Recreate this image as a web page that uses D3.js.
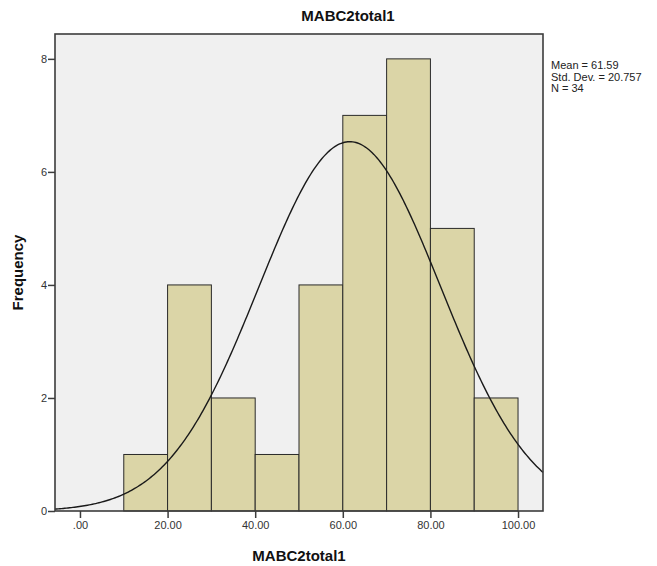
<!DOCTYPE html>
<html>
<head>
<meta charset="utf-8">
<script src="https://cdn.jsdelivr.net/npm/d3@7"></script>
<style>
  html, body { margin: 0; padding: 0; background: #ffffff; }
  svg { display: block; font-family: "Liberation Sans", Arial, sans-serif; }
</style>
</head>
<body>
<svg id="chart" width="657" height="566"></svg>
<script>
// Histogram bins (lower edge, upper edge) and counts
const binStarts = [10, 20, 30, 40, 50, 60, 70, 80, 90];
const binWidth = 10;
const counts = [1, 4, 2, 1, 4, 7, 8, 5, 2];

// Axis ticks
const xTicks = [0, 20, 40, 60, 80, 100];
const xTickLabels = [".00", "20.00", "40.00", "60.00", "80.00", "100.00"];
const yTicks = [0, 2, 4, 6, 8];

// Summary statistics
const mean = 61.59;
const stdDev = 20.757;
const n = 34;
const statLines = ["Mean = 61.59", "Std. Dev. = 20.757", "N = 34"];

const svg = d3.select("#chart");
const plot = { left: 55, right: 543, top: 34, bottom: 511 };

const x = d3.scaleLinear().domain([-5.7, 105.7]).range([plot.left, plot.right]);
const y = d3.scaleLinear().domain([0, 8.44]).range([plot.bottom, plot.top]);

// Plot background
svg.append("rect")
  .attr("x", plot.left).attr("y", plot.top)
  .attr("width", plot.right - plot.left).attr("height", plot.bottom - plot.top)
  .attr("fill", "#f0f0f0");

// Bars
const bins = binStarts.map((s, i) => ({ x0: s, x1: s + binWidth, count: counts[i] }));
svg.append("g").selectAll("rect").data(bins).join("rect")
  .attr("x", d => x(d.x0))
  .attr("y", d => y(d.count))
  .attr("width", d => x(d.x1) - x(d.x0))
  .attr("height", d => y(0) - y(d.count))
  .attr("fill", "#dbd5a7")
  .attr("stroke", "#2a2a2a")
  .attr("stroke-width", 1);

// Normal curve scaled to counts
const scale = n * binWidth;
const curvePts = d3.range(0, 301).map(i => {
  const v = x.domain()[0] + (x.domain()[1] - x.domain()[0]) * i / 300;
  const z = (v - mean) / stdDev;
  return [v, scale * Math.exp(-0.5 * z * z) / (stdDev * Math.sqrt(2 * Math.PI))];
});
svg.append("path")
  .datum(curvePts)
  .attr("fill", "none")
  .attr("stroke", "#1a1a1a")
  .attr("stroke-width", 1.4)
  .attr("d", d3.line().x(d => x(d[0])).y(d => y(d[1])));

// Frame
svg.append("rect")
  .attr("x", plot.left).attr("y", plot.top)
  .attr("width", plot.right - plot.left).attr("height", plot.bottom - plot.top)
  .attr("fill", "none")
  .attr("stroke", "#3c3c3c")
  .attr("stroke-width", 1.6);

// Y axis
const yAxis = svg.append("g")
  .attr("transform", `translate(${plot.left},0)`)
  .call(d3.axisLeft(y).tickValues(yTicks).tickFormat(d3.format("d")).tickSize(7).tickSizeOuter(0));
yAxis.select(".domain").remove();
yAxis.selectAll(".tick line").attr("stroke", "#3c3c3c").attr("stroke-width", 1.5);
yAxis.selectAll(".tick text")
  .attr("x", -8).attr("font-size", 11).attr("fill", "#333")
  .attr("font-family", "Liberation Sans, Arial, sans-serif");

// X axis
const xAxis = svg.append("g")
  .attr("transform", `translate(0,${plot.bottom})`)
  .call(d3.axisBottom(x).tickValues(xTicks).tickFormat((d, i) => xTickLabels[i]).tickSize(7).tickSizeOuter(0));
xAxis.select(".domain").remove();
xAxis.selectAll(".tick line").attr("stroke", "#3c3c3c").attr("stroke-width", 1.5);
xAxis.selectAll(".tick text")
  .attr("y", 10).attr("font-size", 11).attr("fill", "#333")
  .attr("font-family", "Liberation Sans, Arial, sans-serif");

// Title
svg.append("text")
  .attr("x", 348).attr("y", 21)
  .attr("text-anchor", "middle")
  .attr("font-size", 15).attr("font-weight", "bold").attr("fill", "#111")
  .text("MABC2total1");

// Axis titles
svg.append("text")
  .attr("x", (plot.left + plot.right) / 2).attr("y", 561)
  .attr("text-anchor", "middle")
  .attr("font-size", 15).attr("font-weight", "bold").attr("fill", "#111")
  .text("MABC2total1");

svg.append("text")
  .attr("transform", `translate(23,${(plot.top + plot.bottom) / 2}) rotate(-90)`)
  .attr("text-anchor", "middle")
  .attr("font-size", 15).attr("font-weight", "bold").attr("fill", "#111")
  .text("Frequency");

// Statistics block
svg.append("g").selectAll("text").data(statLines).join("text")
  .attr("x", 551)
  .attr("y", (d, i) => 69 + i * 11.5)
  .attr("font-size", 11).attr("fill", "#222")
  .text(d => d);
</script>
</body>
</html>
